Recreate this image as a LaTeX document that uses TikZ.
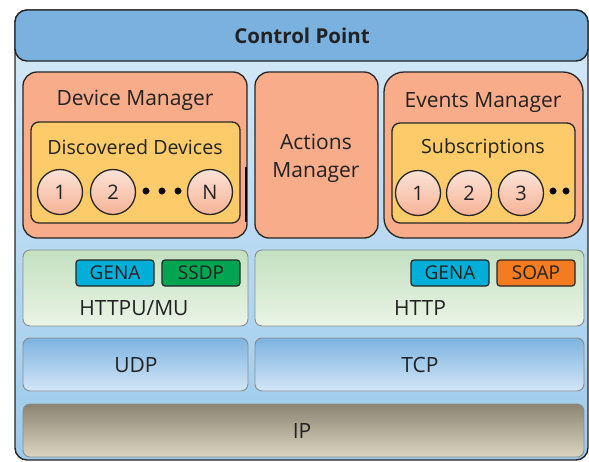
\documentclass[tikz,border=0pt]{standalone}
\usepackage{fontspec}
\setmainfont{Open Sans}
\usetikzlibrary{shadings}
\definecolor{titleblue}{HTML}{7BB1DF}
\definecolor{bodytop}{HTML}{D6EAF8}
\definecolor{bodybot}{HTML}{9CCAEC}
\definecolor{salmon}{HTML}{F8AC8A}
\definecolor{yel}{HTML}{FDCB6A}
\definecolor{circtop}{HTML}{FCE3D8}
\definecolor{circbot}{HTML}{F6B396}
\definecolor{gena}{HTML}{00AED8}
\definecolor{ssdp}{HTML}{00A451}
\definecolor{soap}{HTML}{F47B20}
\definecolor{grtop}{HTML}{C3E0C0}
\definecolor{grbot}{HTML}{EAF4E6}
\definecolor{bltop}{HTML}{7DB3E0}
\definecolor{blbot}{HTML}{D3E6F6}
\definecolor{iptop}{HTML}{8A8472}
\definecolor{ipbot}{HTML}{DCD5C0}
\definecolor{edge}{HTML}{262626}
\definecolor{greyedge}{HTML}{8C8C8C}
\definecolor{ink}{HTML}{222222}
\tikzset{
  mgr/.style={draw=edge, line width=1.3pt, fill=salmon, rounded corners=14pt},
  inner/.style={draw=edge, line width=1.3pt, fill=yel, rounded corners=8pt},
  item/.style={circle, draw=edge, line width=1.3pt, minimum size=45pt, inner sep=0pt,
    top color=circtop, bottom color=circbot, text=ink, font=\fontsize{20}{22}\selectfont},
  proto/.style={draw=edge, line width=1.2pt, rounded corners=3pt, minimum width=78pt,
    minimum height=26pt, inner sep=0pt, text=ink, font=\fontsize{19}{21}\selectfont},
  layer/.style={draw=greyedge, line width=0.9pt, rounded corners=7pt},
  lbl/.style={font=\fontsize{21}{23}\selectfont, text=ink},
  sublbl/.style={font=\fontsize{19.6}{22}\selectfont, text=ink},
  dot/.style={circle, fill=black, inner sep=0pt, minimum size=7pt},
}
\begin{document}
\begin{tikzpicture}[x=1pt,y=-1pt]
\useasboundingbox (0,0) rectangle (589,461);
% outer body
\path[top color=bodytop, bottom color=bodybot, rounded corners=12pt] (15,10) rectangle (588,460);
\draw[edge, line width=1.4pt, rounded corners=12pt] (15,10) rectangle (588,460);
% title bar
\draw[edge, line width=1.4pt, fill=titleblue, rounded corners=12pt] (15,10) rectangle (588,61);
\node[font=\fontsize{20.5}{23}\selectfont\bfseries, text=ink] (cp) at (302,36) {Control Point};
% Device manager
\draw[mgr] (23,72) rectangle (247,238);
\node[lbl] (dm) at (135,100) {Device Manager};
\draw[inner] (31,122) rectangle (240,223);
\node[sublbl] (dd) at (135,147) {Discovered Devices};
\node[item] (d1) at (60,192) {1};
\node[item] (d2) at (113,192) {2};
\node[dot] (da) at (146,191) {};
\node[dot] (db) at (162,191) {};
\node[dot] (dc) at (178,191) {};
\node[item] (dn) at (210,192) {N};
\coordinate (bt) at (246,167);
\coordinate (bb) at (246,222);
\draw[black, line width=2.4pt] (bt) -- (bb);
% Actions manager
\draw[mgr] (255,72) rectangle (378,238);
\node[lbl, align=center, font=\fontsize{21}{28}\selectfont] (am) at (316,158) {Actions\\Manager};
% Events manager
\draw[mgr, rounded corners=20pt] (384,72) rectangle (583,238);
\node[lbl] (em) at (483,103) {Events Manager};
\draw[inner] (392,123) rectangle (575,223);
\node[sublbl] (sb) at (483,148) {Subscriptions};
\node[item] (s1) at (418,193) {1};
\node[item] (s2) at (469,193) {2};
\node[item] (s3) at (521,193) {3};
\node[dot] (sa) at (553,191) {};
\node[dot] (sb2) at (566,191) {};
% HTTPU/MU
\draw[layer, top color=grtop, bottom color=grbot] (23,250) rectangle (248,326);
\node[proto, fill=gena] (g1) at (115,273) {GENA};
\node[proto, fill=ssdp] (ss) at (201,273) {SSDP};
\node[lbl] (hu) at (134,308) {HTTPU/MU};
% HTTP
\draw[layer, top color=grtop, bottom color=grbot] (255,250) rectangle (584,326);
\node[proto, fill=gena] (g2) at (450,273) {GENA};
\node[proto, fill=soap] (so) at (536,273) {SOAP};
\node[lbl] (ht) at (420,308) {HTTP};
% UDP / TCP
\draw[layer, top color=bltop, bottom color=blbot] (23,338) rectangle (248,391);
\node[lbl] (udp) at (136,365) {UDP};
\draw[layer, top color=bltop, bottom color=blbot] (255,338) rectangle (584,391);
\node[lbl] (tcp) at (420,365) {TCP};
% IP
\draw[layer, top color=iptop, bottom color=ipbot] (23,404) rectangle (584,457);
\node[lbl] (ip) at (302,431) {IP};
\end{tikzpicture}
\end{document}
